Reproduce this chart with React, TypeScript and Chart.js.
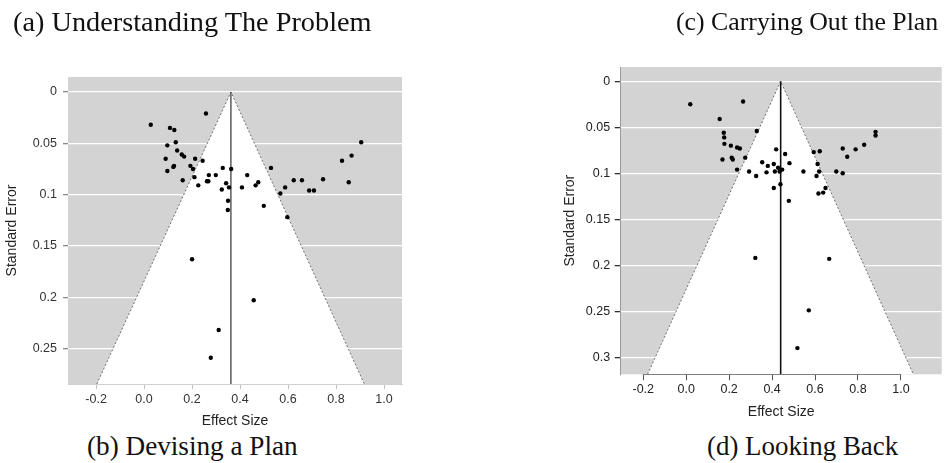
import React, { useEffect, useRef } from "react";
import { Chart, registerables } from "chart.js";

Chart.register(...registerables);

// ---------- shared axis data ----------
const xTicks = [-0.2, 0, 0.2, 0.4, 0.6, 0.8, 1.0];
const xTickLabels = ["-0.2", "0.0", "0.2", "0.4", "0.6", "0.8", "1.0"];
const xTitle = "Effect Size";
const yTitle = "Standard Error";

// ---------- panel (b) Devising a Plan ----------
const captionA = "(a) Understanding The Problem";
const captionB = "(b) Devising a Plan";
const effectB = [
  0.028, 0.258, 0.108, 0.126, 0.132, 0.097, 0.138, 0.157, 0.167, 0.09,
  0.213, 0.244, 0.193, 0.125, 0.122, 0.204, 0.328, 0.363, 0.097, 0.21,
  0.27, 0.299, 0.43, 0.161, 0.262, 0.268, 0.226, 0.342, 0.354, 0.324,
  0.408, 0.35, 0.349, 0.465, 0.476, 0.499, 0.529, 0.568, 0.588, 0.597,
  0.624, 0.658, 0.688, 0.708, 0.746, 0.825, 0.865, 0.853, 0.905, 0.2,
  0.457, 0.311, 0.278,
];
const seB = [
  0.032, 0.021, 0.035, 0.037, 0.049, 0.052, 0.057, 0.061, 0.063, 0.065,
  0.065, 0.067, 0.072, 0.072, 0.073, 0.075, 0.074, 0.075, 0.077, 0.083,
  0.081, 0.081, 0.081, 0.086, 0.087, 0.087, 0.091, 0.089, 0.093, 0.095,
  0.093, 0.106, 0.115, 0.091, 0.088, 0.111, 0.074, 0.099, 0.093, 0.122,
  0.086, 0.086, 0.096, 0.096, 0.085, 0.067, 0.062, 0.088, 0.049, 0.163,
  0.203, 0.232, 0.259,
];
const centerB = 0.362;
const funnelXB = [-0.197, 0.362, 0.918];
const funnelYB = [0.2846, 0, 0.2846];
const xRangeB = [-0.317, 1.075];
const yRangeB = [-0.0146, 0.2846];
const yTicksB = [0, 0.05, 0.1, 0.15, 0.2, 0.25];
const yTickLabelsB = ["0", "0.05", "0.1", "0.15", "0.2", "0.25"];

// ---------- panel (d) Looking Back ----------
const captionC = "(c) Carrying Out the Plan";
const captionD = "(d) Looking Back";
const effectD = [
  0.019, 0.156, 0.175, 0.177, 0.178, 0.208, 0.169, 0.212, 0.217, 0.237,
  0.25, 0.237, 0.265, 0.275, 0.329, 0.293, 0.326, 0.354, 0.38, 0.374,
  0.408, 0.413, 0.428, 0.435, 0.447, 0.419, 0.461, 0.481, 0.439, 0.408,
  0.478, 0.546, 0.594, 0.622, 0.612, 0.619, 0.607, 0.649, 0.638, 0.616,
  0.699, 0.729, 0.729, 0.75, 0.789, 0.829, 0.882, 0.882, 0.322, 0.666,
  0.571, 0.518,
];
const seD = [
  0.025, 0.041, 0.056, 0.061, 0.068, 0.07, 0.085, 0.083, 0.085, 0.072,
  0.073, 0.096, 0.022, 0.083, 0.054, 0.098, 0.103, 0.088, 0.092, 0.099,
  0.09, 0.098, 0.094, 0.098, 0.096, 0.074, 0.079, 0.089, 0.112, 0.116,
  0.13, 0.098, 0.077, 0.076, 0.09, 0.098, 0.103, 0.116, 0.121, 0.122,
  0.098, 0.1, 0.073, 0.082, 0.074, 0.069, 0.055, 0.059, 0.192, 0.193,
  0.249, 0.29,
];
const centerD = 0.44;
const funnelXD = [-0.18, 0.44, 1.058];
const funnelYD = [0.3185, 0, 0.3185];
const xRangeD = [-0.305, 1.19];
const yRangeD = [-0.0155, 0.3185];
const yTicksD = [0, 0.05, 0.1, 0.15, 0.2, 0.25, 0.3];
const yTickLabelsD = ["0", "0.05", "0.1", "0.15", "0.2", "0.25", "0.3"];

// ---------- plugins ----------
const panelBg = {
  id: "panelBg",
  beforeDraw(chart: any, _args: any, opts: any) {
    const { ctx, chartArea } = chart;
    ctx.save();
    ctx.fillStyle = opts.color || "#d3d3d3";
    ctx.fillRect(chartArea.left, chartArea.top, chartArea.right - chartArea.left, chartArea.bottom - chartArea.top);
    ctx.restore();
  },
};

const xAxisSpan = {
  id: "xAxisSpan",
  afterDatasetsDraw(chart: any, _args: any, opts: any) {
    if (!opts || !opts.show) return;
    const { ctx, chartArea } = chart;
    const xs = chart.scales.x;
    const x0 = xs.getPixelForValue(opts.from);
    const x1 = xs.getPixelForValue(opts.to);
    ctx.save();
    ctx.strokeStyle = opts.color;
    ctx.lineWidth = 1;
    ctx.beginPath();
    ctx.moveTo(x0 - 0.5, Math.round(chartArea.bottom) + 0.5);
    ctx.lineTo(x1 + 0.5, Math.round(chartArea.bottom) + 0.5);
    ctx.stroke();
    ctx.restore();
  },
};

const AXIS_FONT = "'Liberation Sans', Arial, sans-serif";

function buildConfig(p: any) {
  const points = p.effect.map((x: number, i: number) => ({ x, y: p.se[i] }));
  const funnel = p.funnelX.map((x: number, i: number) => ({ x, y: p.funnelY[i] }));
  const center = [
    { x: p.center, y: 0 },
    { x: p.center, y: p.yRange[1] },
  ];
  const s = p.style;
  return {
    type: "scatter",
    data: {
      datasets: [
        {
          type: "scatter",
          data: points,
          pointRadius: s.pointRadius,
          pointBackgroundColor: "#000",
          pointBorderWidth: 0,
          showLine: false,
        },
        {
          type: "line",
          data: center,
          borderColor: s.centerColor,
          borderWidth: s.centerWidth,
          pointRadius: 0,
          fill: false,
        },
        {
          type: "line",
          data: funnel,
          borderColor: "#707070",
          borderWidth: 1,
          borderDash: [2, 2],
          pointRadius: 0,
          tension: 0,
          fill: { value: p.yRange[1] },
          backgroundColor: "#ffffff",
        },
      ],
    },
    options: {
      animation: false,
      responsive: false,
      devicePixelRatio: 1,
      events: [],
      layout: { padding: p.layout.padding },
      plugins: {
        legend: { display: false },
        tooltip: { enabled: false },
        panelBg: { color: "#d3d3d3" },
        xAxisSpan: s.xSpan,
      },
      scales: {
        x: {
          type: "linear",
          min: p.xRange[0],
          max: p.xRange[1],
          afterBuildTicks: (sc: any) => {
            sc.ticks = xTicks.map((v) => ({ value: v }));
          },
          afterFit: (sc: any) => {
            sc.height = p.layout.xAxisHeight;
          },
          ticks: {
            autoSkip: false,
            maxRotation: 0,
            padding: p.layout.xTickPad,
            font: { family: AXIS_FONT, size: 12.5 },
            color: s.labelColor,
            callback: (_v: any, i: number) => xTickLabels[i],
          },
          grid: {
            drawOnChartArea: false,
            drawTicks: true,
            tickLength: p.layout.xTickLen,
            tickColor: s.xTickColor,
            color: s.xTickColor,
          },
          border: { display: s.xBorder, color: s.xBorderColor, width: 1 },
          title: {
            display: true,
            text: xTitle,
            color: "#222",
            font: { family: AXIS_FONT, size: 14 },
            padding: { top: 0, bottom: p.layout.xTitlePad },
          },
        },
        y: {
          type: "linear",
          reverse: true,
          min: p.yRange[0],
          max: p.yRange[1],
          afterBuildTicks: (sc: any) => {
            sc.ticks = p.yTicks.map((v: number) => ({ value: v }));
          },
          afterFit: (sc: any) => {
            sc.width = p.layout.yAxisWidth;
          },
          ticks: {
            autoSkip: false,
            padding: p.layout.yTickPad,
            font: { family: AXIS_FONT, size: 12.5 },
            color: s.labelColor,
            callback: (_v: any, i: number) => p.yTickLabels[i],
          },
          grid: {
            color: "#ffffff",
            lineWidth: 1.3,
            drawTicks: true,
            tickLength: p.layout.yTickLen,
            tickColor: s.yTickColor,
          },
          border: { display: s.yBorder, color: "#9a9a9a", width: 1 },
          title: {
            display: true,
            text: yTitle,
            color: "#222",
            font: { family: AXIS_FONT, size: 14 },
            padding: { top: p.layout.yTitlePad, bottom: 0 },
          },
        },
      },
    },
    plugins: [panelBg, xAxisSpan],
  };
}

const panelB = {
  effect: effectB,
  se: seB,
  center: centerB,
  funnelX: funnelXB,
  funnelY: funnelYB,
  xRange: xRangeB,
  yRange: yRangeB,
  yTicks: yTicksB,
  yTickLabels: yTickLabelsB,
  layout: {
    padding: { left: 0, top: 77, right: 71, bottom: 0 },
    xAxisHeight: 46,
    yAxisWidth: 68,
    xTickPad: 3.5,
    xTickLen: 5,
    yTickPad: 6,
    yTickLen: 5,
    xTitlePad: 0.6,
    yTitlePad: 3.6,
  },
  style: {
    pointRadius: 2.2,
    centerColor: "#333333",
    centerWidth: 1.2,
    labelColor: "#333",
    xTickColor: "#c2c2c2",
    yTickColor: "#8a8a8a",
    xBorder: true,
    xBorderColor: "#d0d0d0",
    yBorder: false,
    xSpan: { show: false },
  },
};

const panelD = {
  effect: effectD,
  se: seD,
  center: centerD,
  funnelX: funnelXD,
  funnelY: funnelYD,
  xRange: xRangeD,
  yRange: yRangeD,
  yTicks: yTicksD,
  yTickLabels: yTickLabelsD,
  layout: {
    padding: { left: 0, top: 67, right: 4.3, bottom: 0 },
    xAxisHeight: 55.7,
    yAxisWidth: 147.7,
    xTickPad: 2.2,
    xTickLen: 6,
    yTickPad: 4.5,
    yTickLen: 6,
    xTitlePad: 9.9,
    yTitlePad: 88.6,
  },
  style: {
    pointRadius: 2.2,
    centerColor: "#111111",
    centerWidth: 1.6,
    labelColor: "#222",
    xTickColor: "#555555",
    yTickColor: "#333333",
    xBorder: false,
    xBorderColor: "#888",
    yBorder: true,
    xSpan: { show: true, from: -0.2, to: 1.0, color: "#808080" },
  },
};

function FunnelChart({ panel, left }: { panel: any; left: number }) {
  const ref = useRef<HTMLCanvasElement | null>(null);
  useEffect(() => {
    if (!ref.current) return;
    const chart = new Chart(ref.current, buildConfig(panel) as any);
    return () => chart.destroy();
  }, [panel]);
  return (
    <canvas
      ref={ref}
      width={473}
      height={430}
      style={{ position: "absolute", left, top: 0, width: 473, height: 430, display: "block" }}
    />
  );
}

const captionStyle: React.CSSProperties = {
  position: "absolute",
  fontFamily: "'Liberation Serif', 'Times New Roman', serif",
  fontSize: 27,
  lineHeight: "32px",
  color: "#111",
  whiteSpace: "nowrap",
};

export default function App() {
  return (
    <div
      style={{
        position: "absolute",
        left: 0,
        top: 0,
        width: 946,
        height: 463,
        overflow: "hidden",
        background: "#fff",
      }}
    >
      <FunnelChart panel={panelB} left={0} />
      <FunnelChart panel={panelD} left={473} />
      <div style={{ ...captionStyle, left: 13, top: 6.4, fontSize: 28.3 }}>{captionA}</div>
      <div style={{ ...captionStyle, left: 676, top: 6.4, fontSize: 25.8 }}>{captionC}</div>
      <div style={{ ...captionStyle, left: 87, top: 430, fontSize: 27.2 }}>{captionB}</div>
      <div style={{ ...captionStyle, left: 707, top: 430, fontSize: 26.9 }}>{captionD}</div>
    </div>
  );
}
